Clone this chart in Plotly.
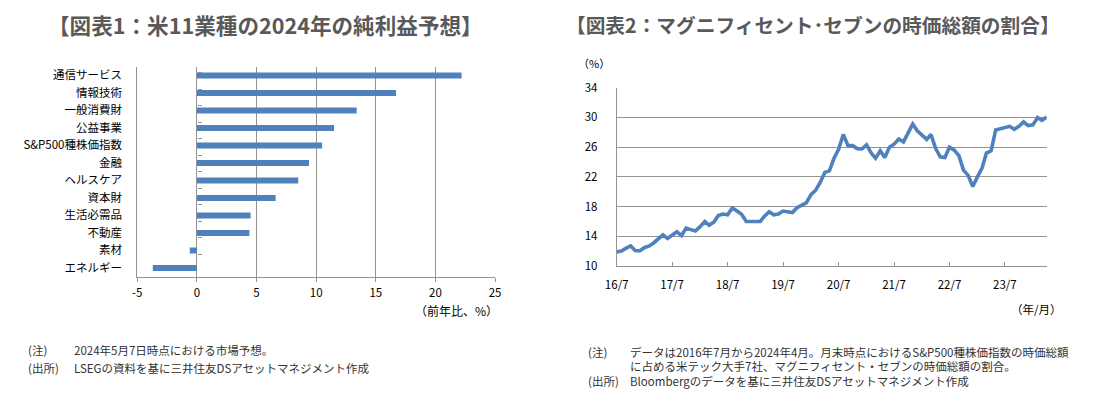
import plotly.graph_objects as go
import pandas as pd

# ---------------- data ----------------
sectors = ["通信サービス", "情報技術", "一般消費財", "公益事業", "S&P500種株価指数", "金融",
           "ヘルスケア", "資本財", "生活必需品", "不動産", "素材", "エネルギー"]
profit_growth = [22.2, 16.7, 13.4, 11.5, 10.5, 9.4, 8.5, 6.6, 4.5, 4.4, -0.6, -3.7]
x1_tickvals = [-5, 0, 5, 10, 15, 20, 25]
x1_ticktext = ["-5", "0", "5", "10", "15", "20", "25"]

months = pd.date_range("2016-07-01", "2024-04-01", freq="MS")
mag7_share = [
    11.9, 12.0, 12.4, 12.7, 12.05, 12.05, 12.5, 12.7, 13.1, 13.6, 14.2, 13.7,
    14.1, 14.6, 14.1, 15.1, 14.9, 14.7, 15.3, 16.0, 15.5, 15.9, 16.8, 17.0,
    16.9, 17.8, 17.4, 16.95, 16.0, 16.0, 16.1, 16.0, 16.7, 17.3, 16.9, 17.0,
    17.4, 17.3, 17.2, 17.85, 18.2, 18.5, 19.6, 20.2, 21.2, 22.6, 22.8, 24.5,
    25.7, 27.7, 26.2, 26.2, 25.8, 25.75, 26.3, 25.2, 24.5, 25.5, 24.6, 26.0,
    26.4, 27.1, 26.7, 27.8, 29.1, 28.2, 27.6, 27.05, 27.7, 25.8, 24.7, 24.6,
    26.0, 25.6, 24.85, 22.9, 22.2, 20.7, 22.0, 23.2, 25.2, 25.5, 28.3, 28.5,
    28.65, 28.8, 28.4, 28.8, 29.4, 28.9, 29.0, 30.0, 29.6, 30.05,
]
x2_tickvals = ["2016-07-01", "2017-07-01", "2018-07-01", "2019-07-01",
               "2020-07-01", "2021-07-01", "2022-07-01", "2023-07-01"]
x2_ticktext = ["16/7", "17/7", "18/7", "19/7", "20/7", "21/7", "22/7", "23/7"]

title1 = "【図表1：米11業種の2024年の純利益予想】"
title2 = "【図表2：マグニフィセント･セブンの時価総額の割合】"
notes_left = [("(注)", "2024年5月7日時点における市場予想。"),
              ("(出所)", "LSEGの資料を基に三井住友DSアセットマネジメント作成")]
notes_right = [("(注)", "データは2016年7月から2024年4月。月末時点におけるS&P500種株価指数の時価総額"),
               ("", "に占める米テック大手7社、マグニフィセント・セブンの時価総額の割合。"),
               ("(出所)", "Bloombergのデータを基に三井住友DSアセットマネジメント作成")]

# ---------------- styling ----------------
PAGE_W, PAGE_H = 1100, 397
BODY = 8  # default page body margin around the plot div
W, H = PAGE_W - 2 * BODY, PAGE_H - 2 * BODY
FONT = "Noto Sans CJK JP"
BAR = "#4F81BD"
GRID = "#939393"


def px(x):
    """page pixel x -> paper fraction"""
    return (x - BODY) / W


def py(y):
    """page pixel y (from top) -> paper fraction"""
    return 1 - (y - BODY) / H


fig = go.Figure()

fig.add_trace(go.Bar(
    x=profit_growth, y=sectors, orientation="h", width=0.34,
    marker=dict(color=BAR, line=dict(width=0)),
    xaxis="x", yaxis="y", hoverinfo="x+y",
))
# invisible helper carrying the category boundary tick marks on the x=0 line
fig.add_trace(go.Scatter(
    x=profit_growth, y=sectors, mode="markers", marker=dict(opacity=0),
    xaxis="x", yaxis="y3", hoverinfo="skip", showlegend=False,
))
fig.add_trace(go.Scatter(
    x=months, y=mag7_share, mode="lines",
    line=dict(color=BAR, width=3.6),
    xaxis="x2", yaxis="y2",
))

tickfont = dict(family=FONT, size=11.5, color="#000000")

fig.update_layout(
    width=W, height=H, autosize=False,
    margin=dict(l=0, r=0, t=0, b=0, autoexpand=False),
    paper_bgcolor="white", plot_bgcolor="white",
    showlegend=False,
    font=dict(family=FONT, size=11.5, color="#000"),
    xaxis=dict(
        domain=[px(137.3), px(495)], anchor="y", automargin=False,
        range=[-5, 25], tickvals=x1_tickvals, ticktext=x1_ticktext,
        showgrid=True, gridcolor=GRID, gridwidth=1,
        zeroline=True, zerolinecolor=GRID, zerolinewidth=1,
        showline=True, linecolor=GRID, linewidth=1,
        ticks="outside", ticklen=4, tickcolor=GRID,
        ticklabelstandoff=1, tickfont=tickfont,
    ),
    yaxis=dict(
        domain=[py(276.7), py(66.7)], anchor="x", automargin=False,
        type="category", categoryorder="array", categoryarray=sectors,
        autorange="reversed",
        showgrid=False, zeroline=False,
        showline=True, linecolor=GRID, linewidth=1,
        ticks="", ticklabelstandoff=12, tickfont=tickfont,
    ),
    yaxis3=dict(
        overlaying="y", anchor="free", position=px(197.3), side="left",
        automargin=False,
        type="category", categoryorder="array", categoryarray=sectors,
        autorange="reversed", tickson="boundaries",
        showgrid=False, zeroline=False, showline=False,
        ticks="inside", ticklen=4, tickcolor=GRID, showticklabels=False,
    ),
    xaxis2=dict(
        domain=[px(616.7), px(1046.7)], anchor="y2", type="date", automargin=False,
        range=["2016-07-01", "2024-04-01"],
        tickvals=x2_tickvals, ticktext=x2_ticktext,
        showgrid=False, zeroline=False,
        showline=True, linecolor=GRID, linewidth=1,
        ticks="inside", ticklen=4, tickcolor=GRID,
        ticklabelstandoff=8, tickfont=tickfont,
    ),
    yaxis2=dict(
        domain=[py(266), py(87.7)], anchor="x2", automargin=False,
        range=[10, 34], dtick=4, tick0=10,
        showgrid=True, gridcolor=GRID, gridwidth=1,
        zeroline=False,
        showline=True, linecolor=GRID, linewidth=1,
        ticks="", ticklabelstandoff=16, tickfont=tickfont,
    ),
)

ann = []
ann.append(dict(text=f"<b>{title1}</b>", x=px(265), y=py(25), xref="paper", yref="paper",
                xanchor="center", yanchor="middle", showarrow=False,
                font=dict(family=FONT, size=21.6, color="#595959")))
ann.append(dict(text=f"<b>{title2}</b>", x=px(813), y=py(24), xref="paper", yref="paper",
                xanchor="center", yanchor="middle", showarrow=False,
                font=dict(family=FONT, size=19.7, color="#595959")))
ann.append(dict(text="（前年比、%）", x=px(500), y=py(310), xref="paper", yref="paper",
                xanchor="right", yanchor="middle", showarrow=False,
                font=dict(family=FONT, size=12, color="#000")))
ann.append(dict(text="（%）", x=px(594), y=py(63), xref="paper", yref="paper",
                xanchor="center", yanchor="middle", showarrow=False,
                font=dict(family=FONT, size=11, color="#000")))
ann.append(dict(text="（年/月）", x=px(1036), y=py(309), xref="paper", yref="paper",
                xanchor="center", yanchor="middle", showarrow=False,
                font=dict(family=FONT, size=11.5, color="#000")))

note_font = dict(family=FONT, size=11.5, color="#333333")
for (lab, txt), yy in zip(notes_left, [350, 367.5]):
    ann.append(dict(text=lab, x=px(26), y=py(yy), xref="paper", yref="paper",
                    xanchor="left", yanchor="middle", showarrow=False, font=note_font))
    ann.append(dict(text=txt, x=px(71.5), y=py(yy), xref="paper", yref="paper",
                    xanchor="left", yanchor="middle", showarrow=False, font=note_font))
for (lab, txt), yy in zip(notes_right, [352, 366, 380.5]):
    if lab:
        ann.append(dict(text=lab, x=px(586), y=py(yy), xref="paper", yref="paper",
                        xanchor="left", yanchor="middle", showarrow=False, font=note_font))
    ann.append(dict(text=txt, x=px(628), y=py(yy), xref="paper", yref="paper",
                    xanchor="left", yanchor="middle", showarrow=False, font=note_font))

fig.update_layout(annotations=ann)
fig.write_html("out.html")
